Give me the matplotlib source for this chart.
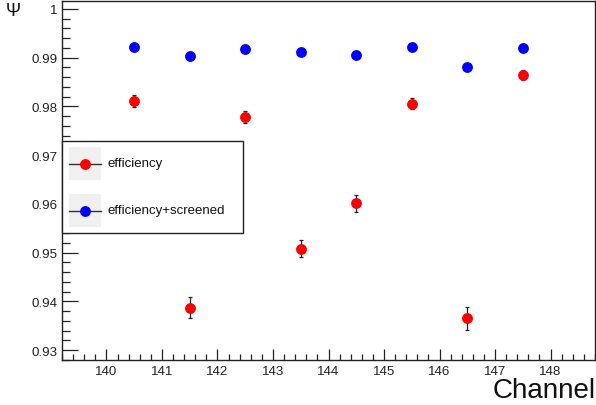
import matplotlib
matplotlib.use("Agg")
import matplotlib.pyplot as plt
from matplotlib.patches import Rectangle
from matplotlib.lines import Line2D
from matplotlib.ticker import MultipleLocator, FixedLocator, FixedFormatter

plt.rcParams['font.family'] = ['Liberation Sans', 'DejaVu Sans']

# ---- data ----
channels = [140.5, 141.5, 142.5, 143.5, 144.5, 145.5, 146.5, 147.5]
efficiency = [0.9811, 0.9387, 0.9778, 0.9508, 0.9601, 0.9806, 0.9365, 0.9864]
efficiency_err = [0.0013, 0.0022, 0.0013, 0.0018, 0.0017, 0.0011, 0.0023, 0.0010]
screened = [0.9923, 0.9903, 0.9917, 0.9912, 0.9905, 0.9923, 0.9880, 0.9920]
screened_err = [0.0005, 0.0005, 0.0005, 0.0005, 0.0005, 0.0005, 0.0008, 0.0005]
y_ticks = [0.93, 0.94, 0.95, 0.96, 0.97, 0.98, 0.99, 1.00]
y_tick_labels = ["0.93", "0.94", "0.95", "0.96", "0.97", "0.98", "0.99", "1"]
x_ticks = [140, 141, 142, 143, 144, 145, 146, 147, 148]
series_labels = ["efficiency", "efficiency+screened"]
series_colors = ["#ff0000", "#0000ff"]

W, H = 596, 406
fig = plt.figure(figsize=(W / 100, H / 100), dpi=100)

def fx(px):
    return px / W

def fy(py):
    return 1 - py / H

ax = fig.add_axes([fx(62), fy(361), fx(595) - fx(62), fy(2) - fy(361)])
ax.set_xlim(139.2, 148.8)
ax.set_ylim(0.92795, 1.00164)

for vals, errs, col in [(efficiency, efficiency_err, series_colors[0]),
                        (screened, screened_err, series_colors[1])]:
    ax.errorbar(channels, vals, yerr=errs, fmt='o', color=col, ms=6.8,
                mec=col, ecolor='#222222', elinewidth=0.9, capsize=1.6,
                capthick=0.9, zorder=3)

for sp in ['top', 'right']:
    ax.spines[sp].set_linewidth(1.0)
for sp in ['left', 'bottom']:
    ax.spines[sp].set_linewidth(1.0)
for sp in ax.spines.values():
    sp.set_color('#222222')

ax.yaxis.set_major_locator(FixedLocator(y_ticks))
ax.yaxis.set_major_formatter(FixedFormatter(y_tick_labels))
ax.yaxis.set_minor_locator(MultipleLocator(0.002))
ax.xaxis.set_major_locator(FixedLocator(x_ticks))
ax.xaxis.set_minor_locator(MultipleLocator(0.2))

ax.tick_params(axis='y', which='major', direction='in', length=11.5, width=0.9,
               labelsize=9.6, pad=3.5, colors='#222222')
ax.tick_params(axis='y', which='minor', direction='in', length=5.8, width=0.9,
               colors='#222222')
ax.tick_params(axis='x', which='major', direction='in', length=7.9, width=0.9,
               labelsize=9.6, pad=3.5, colors='#222222')
ax.tick_params(axis='x', which='minor', direction='in', length=4.0, width=0.9,
               colors='#222222')

fig.text(fx(596), fy(398), "Channel", ha='right', va='baseline', fontsize=20,
         color='#111111')
fig.text(fx(6), fy(16), "Ψ", ha='left', va='baseline', fontsize=13,
         color='#111111')

# ---- legend (manual, ROOT style) ----
fig.add_artist(Rectangle((fx(62), fy(234)), fx(243) - fx(62), fy(142) - fy(234),
                         transform=fig.transFigure, facecolor='white',
                         edgecolor='#222222', linewidth=1.0, zorder=5))
for i, (lab, col) in enumerate(zip(series_labels, series_colors)):
    top = 148 + i * 47
    bot = top + 33
    cy = (top + bot) / 2
    fig.add_artist(Rectangle((fx(69), fy(bot)), fx(101) - fx(69), fy(top) - fy(bot),
                             transform=fig.transFigure, facecolor='#f0f0f0',
                             edgecolor='none', zorder=6))
    fig.add_artist(Line2D([fx(69), fx(101)], [fy(cy), fy(cy)],
                          transform=fig.transFigure, color='#333333',
                          linewidth=1.0, zorder=7))
    fig.add_artist(Line2D([fx(85)], [fy(cy)], transform=fig.transFigure,
                          marker='o', ms=6.8, color=col, mec=col,
                          linestyle='none', zorder=8))
    fig.text(fx(108), fy(cy), lab, ha='left', va='center', fontsize=9.5,
             color='#111111', zorder=9)

fig.savefig("out.png", dpi=100)
